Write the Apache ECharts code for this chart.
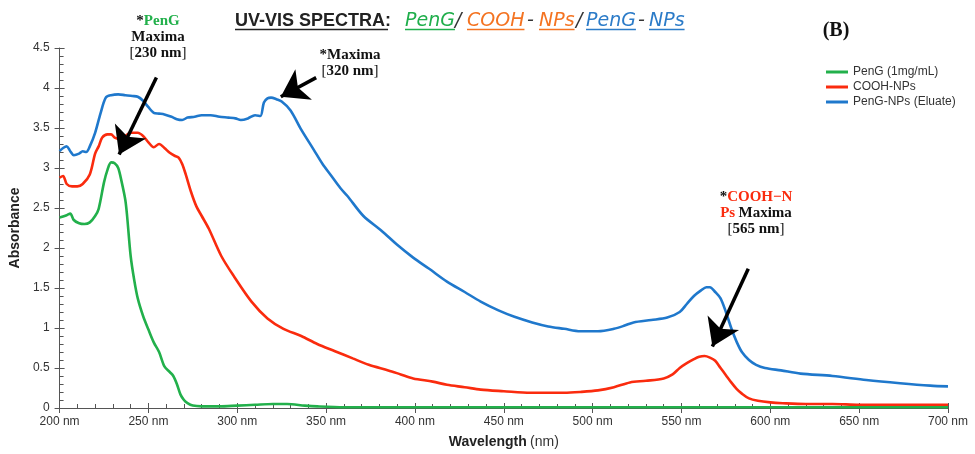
<!DOCTYPE html>
<html>
<head>
<meta charset="utf-8">
<script src="https://cdn.jsdelivr.net/npm/echarts@6/dist/echarts.min.js"></script>
<style>
  html, body { margin: 0; padding: 0; background: #fff; }
  #chart { width: 975px; height: 454px; }
</style>
</head>
<body>
<div id="chart"></div>
<script>
// wavelength (nm), absorbance
const penG = [[200,2.38],[204,2.41],[206,2.43],[208,2.35],[211,2.31],[214,2.30],[217,2.32],[220,2.40],[222,2.49],[225,2.82],[227,2.98],[229,3.07],[231,3.06],[233,3.0],[235,2.82],[237,2.6],[238,2.4],[240,1.9],[242,1.6],[244,1.37],[247,1.15],[250,0.98],[253,0.82],[256,0.7],[259,0.52],[262,0.45],[264,0.4],[266,0.3],[268,0.17],[270,0.1],[272,0.06],[275,0.03],[280,0.02],[290,0.02],[300,0.03],[310,0.04],[320,0.05],[328,0.05],[338,0.03],[345,0.02],[360,0.01],[400,0.01],[500,0.01],[600,0.01],[700,0.01]];
const coohNPs = [[200,2.88],[202,2.90],[204,2.80],[207,2.77],[210,2.77],[213,2.80],[217,2.92],[220,3.18],[222,3.27],[224,3.38],[227,3.42],[229,3.42],[231,3.38],[234,3.36],[237,3.40],[240,3.44],[244,3.44],[247,3.40],[250,3.32],[253,3.26],[256,3.30],[259,3.25],[262,3.19],[265,3.15],[267,3.13],[269,3.05],[271,2.92],[274,2.70],[277,2.52],[280,2.40],[284,2.24],[291,1.90],[298,1.65],[308,1.33],[317,1.12],[326,0.99],[336,0.90],[345,0.80],[355,0.71],[365,0.62],[374,0.54],[385,0.47],[392,0.42],[399,0.37],[410,0.33],[418,0.29],[428,0.26],[437,0.23],[450,0.21],[465,0.19],[475,0.19],[484,0.19],[493,0.20],[503,0.22],[512,0.26],[521,0.32],[530,0.34],[540,0.37],[545,0.42],[549,0.5],[553,0.56],[557,0.61],[560,0.64],[563,0.65],[566,0.63],[569,0.59],[572,0.5],[575,0.41],[578,0.32],[581,0.24],[584,0.18],[588,0.12],[593,0.09],[600,0.07],[607,0.06],[620,0.05],[635,0.05],[650,0.04],[663,0.04],[680,0.04],[700,0.04]];
const pengNPs = [[200,3.21],[202,3.25],[204,3.27],[206,3.21],[208,3.16],[211,3.18],[213,3.21],[215,3.2],[217,3.27],[220,3.44],[223,3.68],[226,3.88],[229,3.91],[233,3.92],[237,3.91],[241,3.9],[244,3.89],[247,3.84],[250,3.76],[253,3.69],[256,3.68],[259,3.67],[263,3.64],[266,3.61],[269,3.6],[272,3.63],[276,3.64],[280,3.66],[285,3.66],[290,3.64],[295,3.63],[299,3.62],[302,3.6],[306,3.62],[310,3.66],[313,3.65],[315,3.82],[317,3.87],[319,3.88],[322,3.86],[325,3.83],[330,3.72],[336,3.48],[343,3.23],[348,3.05],[353,2.9],[358,2.75],[362,2.65],[371,2.4],[381,2.22],[390,2.04],[399,1.88],[408,1.74],[418,1.58],[428,1.45],[437,1.33],[447,1.22],[456,1.14],[466,1.07],[475,1.02],[484,0.99],[493,0.96],[503,0.96],[512,0.99],[518,1.03],[523,1.07],[533,1.1],[542,1.13],[549,1.2],[553,1.3],[557,1.4],[561,1.47],[564,1.51],[566,1.51],[569,1.45],[572,1.37],[575,1.2],[578,1.0],[581,0.83],[584,0.7],[588,0.6],[592,0.54],[597,0.5],[606,0.47],[617,0.43],[635,0.4],[654,0.35],[673,0.31],[690,0.28],[700,0.27]];

const seriesNames = ['PenG (1mg/mL)', 'COOH-NPs', 'PenG-NPs (Eluate)'];
const seriesColors = ['#22b04b', '#fa2b0e', '#1f78cc'];

// annotation arrows: [from, to] in (nm, absorbance)
const arrows = [
  [[254.5, 4.13], [233.5, 3.17]],
  [[344.4, 4.13], [324.5, 3.89]],
  [[587.6, 1.74], [567.4, 0.77]]
];

// title pieces: text, colour, font, x, underline
const titleBold = 'bold 18px "Liberation Sans", Arial, sans-serif';
const titleItal = 'italic 19px "DejaVu Sans", sans-serif';
const titleParts = [
  ['UV-VIS SPECTRA:', '#222', titleBold, 235, true],
  ['PenG', '#1fae4b', titleItal, 405, true],
  ['/', '#333', titleItal, 455, false],
  ['COOH', '#f47321', titleItal, 467, true],
  ['-', '#333', titleItal, 527, false],
  ['NPs', '#f47321', titleItal, 539, true],
  ['/', '#333', titleItal, 576, false],
  ['PenG', '#2b7bc8', titleItal, 586, true],
  ['-', '#333', titleItal, 638, false],
  ['NPs', '#2b7bc8', titleItal, 649, true]
];

const ctx = document.createElement('canvas').getContext('2d');
const measure = (txt, font) => { ctx.font = font; return ctx.measureText(txt).width; };

const graphics = [];
titleParts.forEach(([txt, col, font, x, ul]) => {
  graphics.push({ type: 'text', x: x, y: 21, style: { text: txt, fill: col, font: font, verticalAlign: 'middle' } });
  if (ul) {
    graphics.push({ type: 'line', shape: { x1: x, y1: 29.5, x2: x + measure(txt, font) - (txt.endsWith(':') ? 3 : 0), y2: 29.5 }, style: { stroke: col, lineWidth: 1.3 } });
  }
});

const serif = '"Liberation Serif", "Times New Roman", serif';
const rich = {
  k: { fontFamily: serif, fontWeight: 'bold', fontSize: 15, fill: '#111', lineHeight: 16 },
  g: { fontFamily: serif, fontWeight: 'bold', fontSize: 15, fill: '#22b04b', lineHeight: 16 },
  r: { fontFamily: serif, fontWeight: 'bold', fontSize: 15, fill: '#fa2b0e', lineHeight: 16 },
  n: { fontFamily: serif, fontSize: 15, fill: '#111', lineHeight: 16 }
};
graphics.push(
  { type: 'text', x: 158, y: 37, style: { text: '{k|*}{g|PenG}\n{k|Maxima}\n{n|[}{k|230 nm}{n|]}', rich: rich, align: 'center', verticalAlign: 'middle' } },
  { type: 'text', x: 350, y: 63, style: { text: '{k|*Maxima}\n{n|[}{k|320 nm}{n|]}', rich: rich, align: 'center', verticalAlign: 'middle' } },
  { type: 'text', x: 756, y: 213, style: { text: '{k|*}{r|COOH−N}\n{r|Ps} {k|Maxima}\n{n|[}{k|565 nm}{n|]}', rich: rich, align: 'center', verticalAlign: 'middle' } },
  { type: 'text', x: 836, y: 31, style: { text: '(B)', font: 'bold 20px ' + serif, fill: '#111', align: 'center', verticalAlign: 'middle' } }
);

const axisCol = '#555';
const labelStyle = { color: '#333', fontSize: 12, fontFamily: '"Liberation Sans", Arial, sans-serif' };

const chart = echarts.init(document.getElementById('chart'), null, { renderer: 'canvas' });
chart.setOption({
  animation: false,
  backgroundColor: '#fff',
  grid: { left: 58, right: 27, top: 48, bottom: 44 },
  legend: {
    orient: 'vertical', left: 821, top: 61, itemGap: 3,
    icon: 'rect', itemWidth: 22, itemHeight: 3,
    textStyle: { color: '#333', fontSize: 12, fontFamily: '"Liberation Sans", Arial, sans-serif' },
    data: seriesNames
  },
  graphic: graphics,
  xAxis: [
    {
      type: 'value', min: 200, max: 700, interval: 50, position: 'bottom',
      name: '{b|Wavelength} {n|(nm)}', nameLocation: 'middle', nameGap: 27,
      nameTextStyle: { rich: { b: { fontWeight: 'bold', fontSize: 14, color: '#222' }, n: { fontSize: 14, color: '#333' } } },
      axisLine: { lineStyle: { color: axisCol } },
      axisTick: { show: true, length: 5, lineStyle: { color: axisCol } },
      axisLabel: Object.assign({ margin: 8, formatter: v => v + ' nm' }, labelStyle),
      splitLine: { show: false }
    },
    {
      type: 'value', min: 200, max: 700, interval: 50, position: 'bottom',
      axisLine: { show: false },
      axisTick: { show: true, inside: true, length: 5, lineStyle: { color: axisCol } },
      minorTick: { show: true, splitNumber: 5, length: 4, lineStyle: { color: axisCol } },
      axisLabel: { show: false },
      splitLine: { show: false }
    }
  ],
  yAxis: [
    {
      type: 'value', min: 0, max: 4.5, interval: 0.5, position: 'left',
      name: 'Absorbance', nameLocation: 'middle', nameGap: 29,
      nameTextStyle: { fontWeight: 'bold', fontSize: 14, color: '#222' },
      axisLine: { show: true, lineStyle: { color: axisCol } },
      axisTick: { show: true, length: 5, lineStyle: { color: axisCol } },
      axisLabel: Object.assign({ margin: 10 }, labelStyle),
      splitLine: { show: false }
    },
    {
      type: 'value', min: 0, max: 4.5, interval: 0.5, position: 'left',
      axisLine: { show: false },
      axisTick: { show: true, inside: true, length: 5, lineStyle: { color: axisCol } },
      minorTick: { show: true, splitNumber: 5, length: 4, lineStyle: { color: axisCol } },
      axisLabel: { show: false },
      splitLine: { show: false }
    }
  ],
  series: [
    { name: seriesNames[0], type: 'line', data: penG, smooth: 0.3, symbol: 'none', lineStyle: { width: 2.6, color: seriesColors[0] }, itemStyle: { color: seriesColors[0] }, z: 3 },
    { name: seriesNames[1], type: 'line', data: coohNPs, smooth: 0.3, symbol: 'none', lineStyle: { width: 2.6, color: seriesColors[1] }, itemStyle: { color: seriesColors[1] }, z: 3 },
    {
      name: seriesNames[2], type: 'line', data: pengNPs, smooth: 0.3, symbol: 'none', lineStyle: { width: 2.6, color: seriesColors[2] }, itemStyle: { color: seriesColors[2] }, z: 3,
      markLine: {
        silent: true, z: 10,
        symbol: ['none', 'arrow'], symbolSize: 26,
        itemStyle: { color: '#000' },
        lineStyle: { color: '#000', width: 3.5, type: 'solid' },
        label: { show: false },
        data: arrows.map(([a, b]) => [{ coord: a }, { coord: b }])
      }
    }
  ]
});
</script>
</body>
</html>
